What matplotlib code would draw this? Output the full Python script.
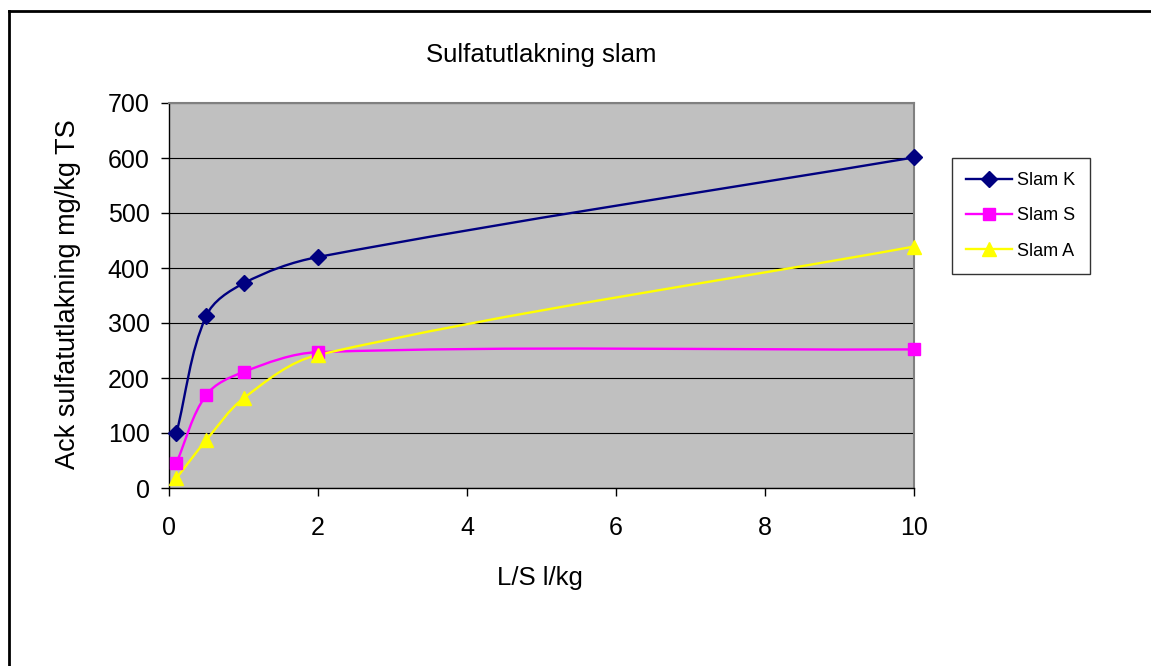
import numpy as np
import matplotlib.pyplot as plt
from matplotlib.path import Path
from matplotlib.patches import PathPatch
from matplotlib.lines import Line2D

plt.rcParams['font.family'] = ['Liberation Sans', 'DejaVu Sans']

# L/S-kvot och ackumulerad sulfatutlakning (mg/kg TS)
ls_kvot = [0.1, 0.5, 1, 2, 10]
slam_k = [100, 313, 372, 420, 601]
slam_s = [46, 169, 211, 247, 252]
slam_a = [18, 87, 163, 242, 439]

serier = [
    ('Slam K', slam_k, '#000080', 'D', 8.5),
    ('Slam S', slam_s, '#FF00FF', 's', 8.5),
    ('Slam A', slam_a, '#FFFF00', '^', 9.5),
]

# skala data -> ungefär pixlar, så att kurvans tangenter blir rätt
SX, SY = 74.5, 0.55


def mjuk_kurva(x, y):
    # utjämnad linje: Bezier-segment, tangent längs grannpunkterna
    p = np.column_stack([np.array(x) * SX, np.array(y) * SY]).astype(float)
    n = len(p)
    tang = []
    for i in range(n):
        a = p[max(i - 1, 0)]
        b = p[min(i + 1, n - 1)]
        d = b - a
        tang.append(d / np.hypot(*d))
    verts = [p[0]]
    codes = [Path.MOVETO]
    for i in range(n - 1):
        L = np.hypot(*(p[i + 1] - p[i])) / 3
        c1 = p[i] + tang[i] * L
        c2 = p[i + 1] - tang[i + 1] * L
        verts += [c1, c2, p[i + 1]]
        codes += [Path.CURVE4] * 3
    verts = np.array(verts) / [SX, SY]
    return Path(verts, codes)


fig = plt.figure(figsize=(11.51, 6.66), dpi=100)
ax = fig.add_axes([169 / 1151, 1 - 488 / 666, 745 / 1151, 385 / 666])
ax.set_facecolor('#C0C0C0')

handtag = []
for namn, y, farg, mark, ms in serier:
    ax.add_patch(PathPatch(mjuk_kurva(ls_kvot, y), fill=False,
                           edgecolor=farg, lw=1.7, zorder=3))
    ax.plot(ls_kvot, y, ls='none', marker=mark, ms=ms, color=farg,
            mec=farg, zorder=4, clip_on=False)
    handtag.append(Line2D([], [], color=farg, lw=1.7, marker=mark,
                          ms=ms, mec=farg, label=namn))

ax.set_xlim(0, 10)
ax.set_ylim(0, 700)
ax.set_xticks(range(0, 11, 2))
ax.set_yticks(range(0, 701, 100))
ax.grid(axis='y', color='black', lw=0.8)
ax.set_axisbelow(True)

for s in ['top', 'right']:
    ax.spines[s].set_color('#808080')
    ax.spines[s].set_linewidth(1.5)
for s in ['left', 'bottom']:
    ax.spines[s].set_color('black')
    ax.spines[s].set_linewidth(1.0)

ax.tick_params(axis='both', direction='out', length=6, width=1,
               labelsize=18, color='black')
ax.tick_params(axis='y', pad=8)
ax.tick_params(axis='x', pad=14)

fig.text(541 / 1151, 1 - 55 / 666, 'Sulfatutlakning slam', fontsize=18.5,
         ha='center', va='center')
fig.text(540 / 1151, 1 - 578 / 666, 'L/S l/kg', fontsize=18.5,
         ha='center', va='center')
fig.text(68 / 1151, 1 - 294 / 666, 'Ack sulfatutlakning mg/kg TS',
         fontsize=19.5, ha='center', va='center', rotation=90)

leg = fig.legend(handles=handtag, loc='upper left',
                 bbox_to_anchor=(952 / 1151, 1 - 158 / 666),
                 fontsize=13, frameon=True, fancybox=False,
                 edgecolor='black', handlelength=2.5, labelspacing=1.0,
                 borderpad=0.8, handletextpad=0.3, borderaxespad=0)
leg.get_frame().set_linewidth(1.0)

# ram runt diagrammet
fig.add_artist(Line2D([8.5 / 1151, 8.5 / 1151], [0, 1 - 10.5 / 666],
                      color='black', lw=2, transform=fig.transFigure))
fig.add_artist(Line2D([8.5 / 1151, 1], [1 - 10.5 / 666, 1 - 10.5 / 666],
                      color='black', lw=2, transform=fig.transFigure))

fig.savefig('out.png', dpi=100)
